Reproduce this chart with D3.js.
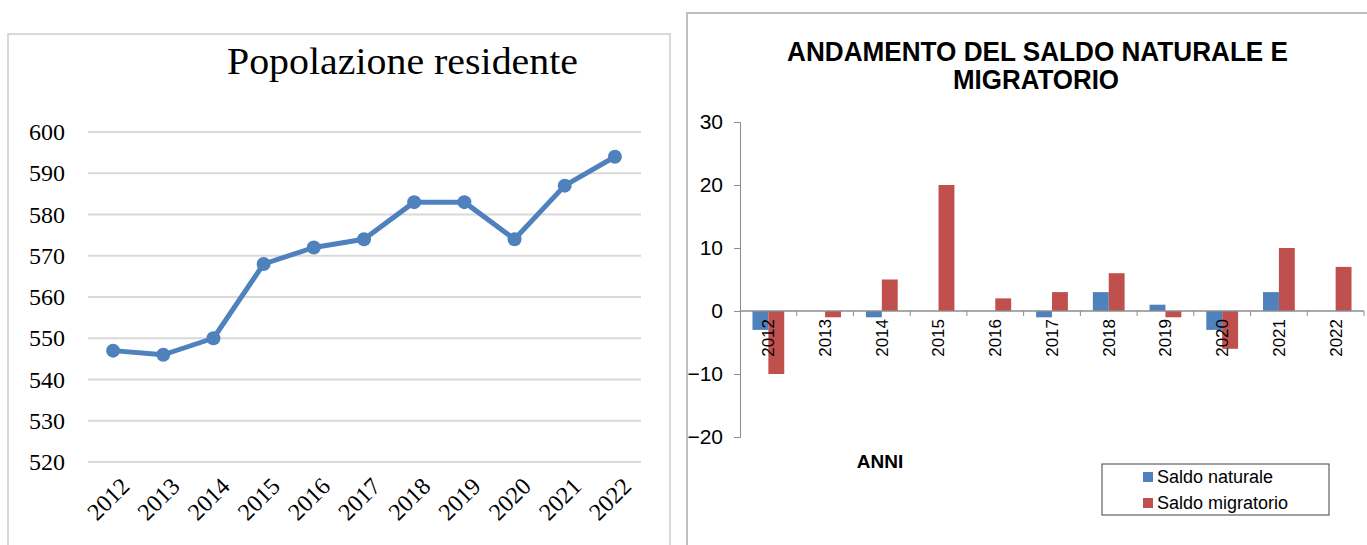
<!DOCTYPE html>
<html>
<head>
<meta charset="utf-8">
<script src="https://cdn.jsdelivr.net/npm/d3@7"></script>
<style>
  body { margin: 0; background: #fff; }
  svg { display: block; }
</style>
</head>
<body>
<div id="chart"></div>
<script>
// anni comuni ai due grafici
const years = ["2012", "2013", "2014", "2015", "2016", "2017", "2018", "2019", "2020", "2021", "2022"];
// popolazione residente
const population = [547, 546, 550, 568, 572, 574, 583, 583, 574, 587, 594];
const popTicks = [520, 530, 540, 550, 560, 570, 580, 590, 600];
// saldi
const seriesNames = ["Saldo naturale", "Saldo migratorio"];
const saldoNaturale = [-3, 0, -1, 0, 0, -1, 3, 1, -3, 3, 0];
const saldoMigratorio = [-10, -1, 5, 20, 2, 3, 6, -1, -6, 10, 7];
const saldoTicks = [-20, -10, 0, 10, 20, 30];

const blue = "#4F81BD", red = "#C0504D";
const width = 1367, height = 545;

const svg = d3.select("#chart").append("svg")
  .attr("width", width)
  .attr("height", height)
  .attr("viewBox", [0, 0, width, height]);

// ---------- left: line chart ----------
function drawPopulation() {
  const serif = "'Liberation Serif', 'DejaVu Serif', serif";
  svg.append("rect")
    .attr("x", 8).attr("y", 34)
    .attr("width", 662).attr("height", 530)
    .attr("fill", "#fff")
    .attr("stroke", "#d9d9d9")
    .attr("stroke-width", 2);

  svg.append("text")
    .attr("x", 227).attr("y", 74)
    .attr("textLength", 351)
    .attr("lengthAdjust", "spacingAndGlyphs")
    .style("font-family", serif)
    .style("font-size", "38px")
    .attr("fill", "#000")
    .text("Popolazione residente");

  const x = d3.scalePoint().domain(years).range([88, 640]).padding(0.5);
  const y = d3.scaleLinear().domain([520, 600]).range([462, 132]);

  svg.append("g")
    .selectAll("line")
    .data(popTicks)
    .join("line")
      .attr("x1", 88).attr("x2", 641)
      .attr("y1", d => y(d)).attr("y2", d => y(d))
      .attr("stroke", "#d9d9d9")
      .attr("stroke-width", 2);

  svg.append("g")
    .attr("transform", "translate(88,0)")
    .call(d3.axisLeft(y).tickValues(popTicks).tickSize(0).tickPadding(23))
    .call(g => g.select(".domain").remove())
    .call(g => g.selectAll("text")
      .style("font-family", serif)
      .style("font-size", "24px")
      .attr("fill", "#000"));

  svg.append("g")
    .selectAll("text")
    .data(years)
    .join("text")
      .attr("transform", d => `translate(${x(d) + 6},${476}) rotate(-45)`)
      .attr("text-anchor", "end")
      .attr("dy", "0.7em")
      .style("font-family", serif)
      .style("font-size", "24px")
      .attr("fill", "#000")
      .text(d => d);

  const line = d3.line()
    .x((d, i) => x(years[i]))
    .y(d => y(d));
  svg.append("path")
    .datum(population)
    .attr("fill", "none")
    .attr("stroke", blue)
    .attr("stroke-width", 5)
    .attr("stroke-linejoin", "round")
    .attr("d", line);

  svg.append("g")
    .selectAll("circle")
    .data(population)
    .join("circle")
      .attr("cx", (d, i) => x(years[i]))
      .attr("cy", d => y(d))
      .attr("r", 7)
      .attr("fill", blue);
}

// ---------- right: grouped bars ----------
function drawSaldi() {
  const sans = "Arial, 'Liberation Sans', sans-serif";
  svg.append("rect")
    .attr("x", 687).attr("y", 13)
    .attr("width", 700).attr("height", 560)
    .attr("fill", "#fff")
    .attr("stroke", "#bfbfbf")
    .attr("stroke-width", 2);

  const title = svg.append("g")
    .style("font-family", sans)
    .style("font-size", "27px")
    .style("font-weight", "bold")
    .attr("fill", "#000");
  title.append("text")
    .attr("x", 787).attr("y", 61)
    .attr("textLength", 501)
    .attr("lengthAdjust", "spacingAndGlyphs")
    .text("ANDAMENTO DEL SALDO NATURALE E");
  title.append("text")
    .attr("x", 953).attr("y", 89)
    .attr("textLength", 166)
    .attr("lengthAdjust", "spacingAndGlyphs")
    .text("MIGRATORIO");

  const x0 = d3.scaleBand().domain(years).range([740, 1364]);
  const x1 = d3.scaleBand().domain(seriesNames)
    .range([x0.bandwidth() * 0.22, x0.bandwidth() * 0.78]);
  const y = d3.scaleLinear().domain([-20, 30]).range([437, 122]);

  const rows = years.map((yr, i) => ({ year: yr, values: [saldoNaturale[i], saldoMigratorio[i]] }));
  const color = d3.scaleOrdinal().domain(seriesNames).range([blue, red]);

  svg.append("g")
    .selectAll("g")
    .data(rows)
    .join("g")
      .attr("transform", d => `translate(${x0(d.year)},0)`)
    .selectAll("rect")
    .data(d => d.values.map((v, k) => ({ name: seriesNames[k], value: v })))
    .join("rect")
      .attr("x", d => x1(d.name))
      .attr("width", x1.bandwidth())
      .attr("y", d => y(Math.max(0, d.value)))
      .attr("height", d => Math.abs(y(d.value) - y(0)))
      .attr("fill", d => color(d.name));

  // y axis
  svg.append("g")
    .attr("transform", "translate(740,0)")
    .call(d3.axisLeft(y).tickValues(saldoTicks).tickSize(6).tickPadding(11))
    .call(g => g.selectAll("line, path").attr("stroke", "#8c8c8c"))
    .call(g => g.selectAll("text")
      .style("font-family", sans)
      .style("font-size", "21px")
      .attr("fill", "#000"));

  // x axis on zero line
  const xAxis = svg.append("g").attr("transform", `translate(0,${y(0)})`);
  xAxis.append("line")
    .attr("x1", 740).attr("x2", 1364)
    .attr("stroke", "#8c8c8c").attr("stroke-width", 1.5);
  xAxis.selectAll("line.tick")
    .data(years.slice(1).concat(["end"]))
    .join("line")
      .attr("class", "tick")
      .attr("x1", d => d === "end" ? 1364 : x0(d))
      .attr("x2", d => d === "end" ? 1364 : x0(d))
      .attr("y1", 0).attr("y2", 5)
      .attr("stroke", "#8c8c8c");
  xAxis.selectAll("text")
    .data(years)
    .join("text")
      .attr("transform", d => `translate(${x0(d) + x0.bandwidth() / 2},8) rotate(-90)`)
      .attr("text-anchor", "end")
      .attr("dy", "0.35em")
      .style("font-family", sans)
      .style("font-size", "17px")
      .attr("fill", "#000")
      .text(d => d);

  svg.append("text")
    .attr("x", 880).attr("y", 468)
    .attr("text-anchor", "middle")
    .style("font-family", sans)
    .style("font-size", "19px")
    .style("font-weight", "bold")
    .attr("fill", "#000")
    .text("ANNI");

  // legend
  const legend = svg.append("g");
  legend.append("rect")
    .attr("x", 1102).attr("y", 464)
    .attr("width", 227).attr("height", 51)
    .attr("fill", "#fff")
    .attr("stroke", "#404040")
    .attr("stroke-width", 1);
  const items = legend.selectAll("g")
    .data(seriesNames)
    .join("g")
      .attr("transform", (d, i) => `translate(1143,${477 + i * 26})`);
  items.append("rect")
    .attr("x", 0).attr("y", -5)
    .attr("width", 10).attr("height", 10)
    .attr("fill", d => color(d));
  items.append("text")
    .attr("x", 14)
    .attr("dy", "0.35em")
    .style("font-family", sans)
    .style("font-size", "18px")
    .attr("fill", "#000")
    .text(d => d);
}

drawPopulation();
drawSaldi();
</script>
</body>
</html>
